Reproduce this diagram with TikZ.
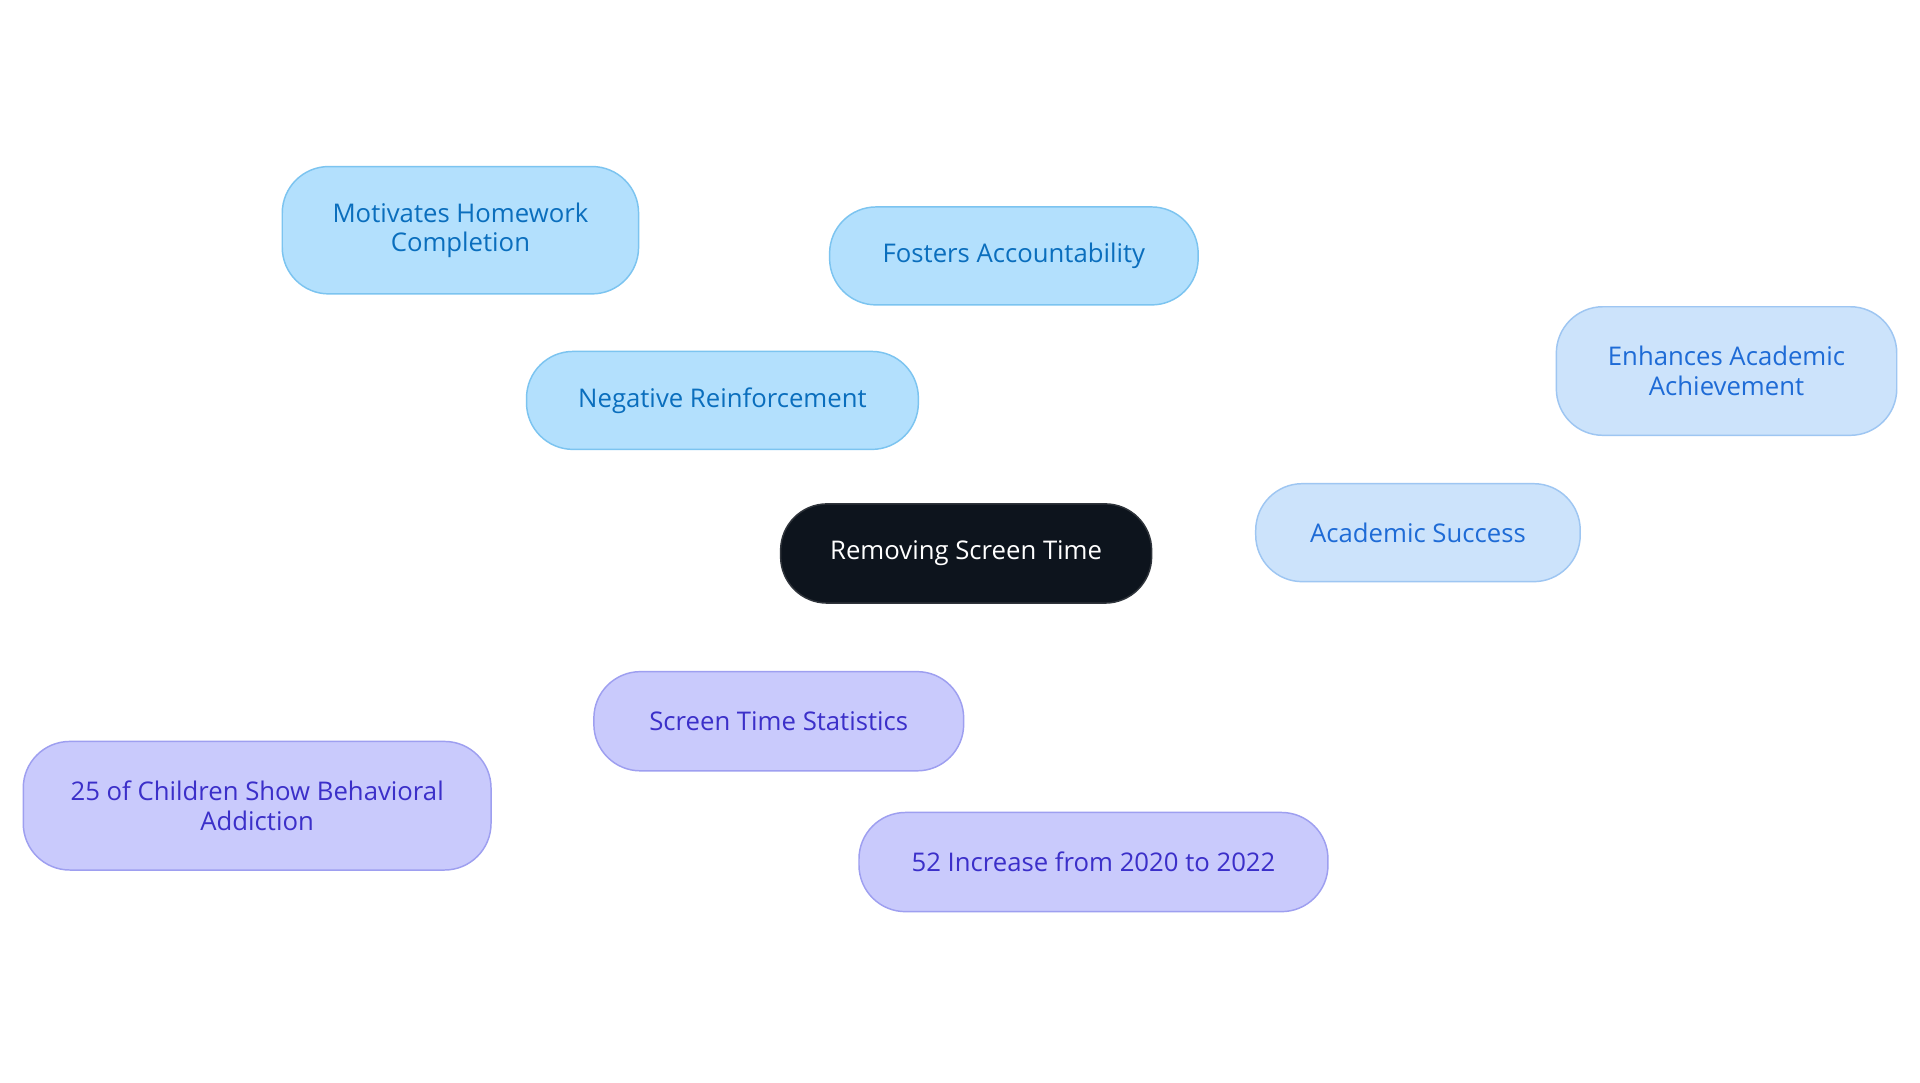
\documentclass[tikz,border=0pt]{standalone}
\usepackage{fontspec}
\setmainfont{Open Sans}
\usetikzlibrary{backgrounds}
\definecolor{bA}{HTML}{B3E0FD}\definecolor{bAd}{HTML}{7CC4F0}\definecolor{tA}{HTML}{0A6EBD}
\definecolor{bB}{HTML}{CCE3FB}\definecolor{bBd}{HTML}{9EC6F2}\definecolor{tB}{HTML}{1E6BD6}
\definecolor{bC}{HTML}{C9CAFC}\definecolor{bCd}{HTML}{9E9FF0}\definecolor{tC}{HTML}{3B2FC9}
\definecolor{ctr}{HTML}{0D141D}
\tikzset{x=1pt,y=-1pt,
 box/.style={rounded corners=38pt,line width=1.2pt,align=center,font=\fontsize{21}{24}\selectfont,inner sep=0pt},
 nA/.style={box,fill=bA,draw=bAd,text=tA},
 nB/.style={box,fill=bB,draw=bBd,text=tB},
 nC/.style={box,fill=bC,draw=bCd,text=tC},
 eA/.style={draw=bAd,line width=3pt},
 eB/.style={draw=bBd,line width=3pt},
 eC/.style={draw=bCd,line width=3pt}}
\begin{document}
\begin{tikzpicture}
\useasboundingbox[fill=white] (0,0) rectangle (1568,884);
\node[box,fill=ctr,draw=ctr!70!gray,text=white,minimum width=303pt,minimum height=81pt] (c) at (789,452) {Removing Screen Time};
\node[nA,minimum width=320pt,minimum height=80pt] (nr) at (590,327) {Negative Reinforcement};
\node[nA,minimum width=291pt,minimum height=104pt] (mh) at (376,188) {Motivates Homework\\Completion};
\node[nA,minimum width=301pt,minimum height=80pt] (fa) at (828,209) {Fosters Accountability};
\node[nB,minimum width=265pt,minimum height=80pt] (as) at (1158,435) {Academic Success};
\node[nB,minimum width=278pt,minimum height=105pt] (ea) at (1410,303) {Enhances Academic\\Achievement};
\node[nC,minimum width=302pt,minimum height=81pt] (st) at (636,589) {Screen Time Statistics};
\node[nC,minimum width=382pt,minimum height=105pt] (ch) at (210,658) {25 of Children Show Behavioral\\Addiction};
\node[nC,minimum width=383pt,minimum height=81pt] (inc) at (893,704) {52 Increase from 2020 to 2022};
\begin{pgfonlayer}{background}
\draw[eA] ([xshift=-50pt]c.center) -- (nr);
\draw[eA] (nr) -- ([xshift=-20pt]mh.center);
\draw[eA] (nr) -- ([xshift=-60pt]fa.center);
\draw[eB] (c) -- (as);
\draw[eB] (as) -- ([xshift=-40pt]ea.center);
\draw[eC] ([xshift=-30pt]c.center) -- ([xshift=20pt]st.center);
\draw[eC] (st) -- (ch);
\draw[eC] ([xshift=60pt]st.center) -- ([xshift=-60pt]inc.center);
\end{pgfonlayer}
\end{tikzpicture}
\end{document}
